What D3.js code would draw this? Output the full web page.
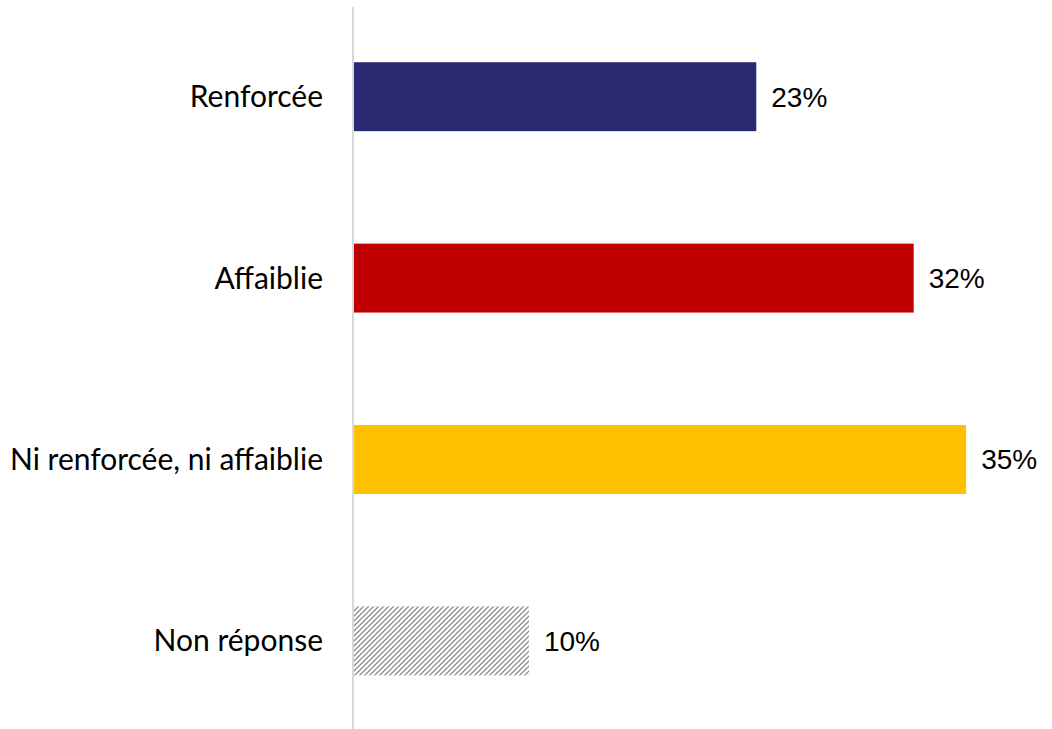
<!DOCTYPE html>
<html>
<head>
<meta charset="utf-8">
<script src="https://cdn.jsdelivr.net/npm/d3@7"></script>
<style>
  body { margin: 0; background: #fff; }
  .catlab { font-family: Lato, "Open Sans", sans-serif; font-size: 30px; font-weight: 400; fill: #000; }
  .vallab { font-family: "Liberation Sans", Arial, sans-serif; font-size: 28px; fill: #000; }
</style>
</head>
<body>
<div id="chart"></div>
<script>
var categories = ['Renforcée', 'Affaiblie', 'Ni renforcée, ni affaiblie', 'Non réponse'];
var values = [23, 32, 35, 10];
var colors = ['#2a2a72', '#c00000', '#ffc000', 'url(#hatch)'];

var w = 1052, h = 729;
var left = 354;

var svg = d3.select('#chart')
    .append('svg')
    .attr('width', w)
    .attr('height', h);

// hatch pattern for "Non réponse"
var pat = svg.append('defs')
    .append('pattern')
    .attr('id', 'hatch')
    .attr('patternUnits', 'userSpaceOnUse')
    .attr('width', 5)
    .attr('height', 5);
pat.append('path')
    .attr('d', 'M-1,1 L1,-1 M0,5 L5,0 M4,6 L6,4')
    .attr('stroke', '#8c8c8c')
    .attr('stroke-width', 1.3);

var xScale = d3.scaleLinear()
    .domain([0, 35])
    .range([left, left + 35 * 17.49]);

var yScale = d3.scaleBand()
    .domain(categories)
    .range([6, 731.6])
    .paddingInner(0.62)
    .paddingOuter(0.31);

var data = categories.map(function(c, i) {
    return {cat: c, value: values[i], color: colors[i]};
});

svg.selectAll('rect.bar')
    .data(data)
    .enter()
    .append('rect')
    .attr('class', 'bar')
    .attr('x', xScale(0))
    .attr('y', function(d) { return yScale(d.cat); })
    .attr('width', function(d) { return xScale(d.value) - xScale(0); })
    .attr('height', yScale.bandwidth())
    .attr('fill', function(d) { return d.color; });

// vertical axis line
svg.append('line')
    .attr('x1', left - 1)
    .attr('x2', left - 1)
    .attr('y1', 7)
    .attr('y2', h)
    .attr('stroke', '#d9d9d9')
    .attr('stroke-width', 2);

svg.selectAll('text.catlab')
    .data(data)
    .enter()
    .append('text')
    .attr('class', 'catlab')
    .attr('x', 323)
    .attr('y', function(d) { return yScale(d.cat) + yScale.bandwidth() / 2; })
    .attr('dy', '0.35em')
    .style('text-anchor', 'end')
    .text(function(d) { return d.cat; });

svg.selectAll('text.vallab')
    .data(data)
    .enter()
    .append('text')
    .attr('class', 'vallab')
    .attr('x', function(d) { return xScale(d.value) + 15; })
    .attr('y', function(d) { return yScale(d.cat) + yScale.bandwidth() / 2; })
    .attr('dy', '0.35em')
    .text(function(d) { return d.value + '%'; });
</script>
</body>
</html>
